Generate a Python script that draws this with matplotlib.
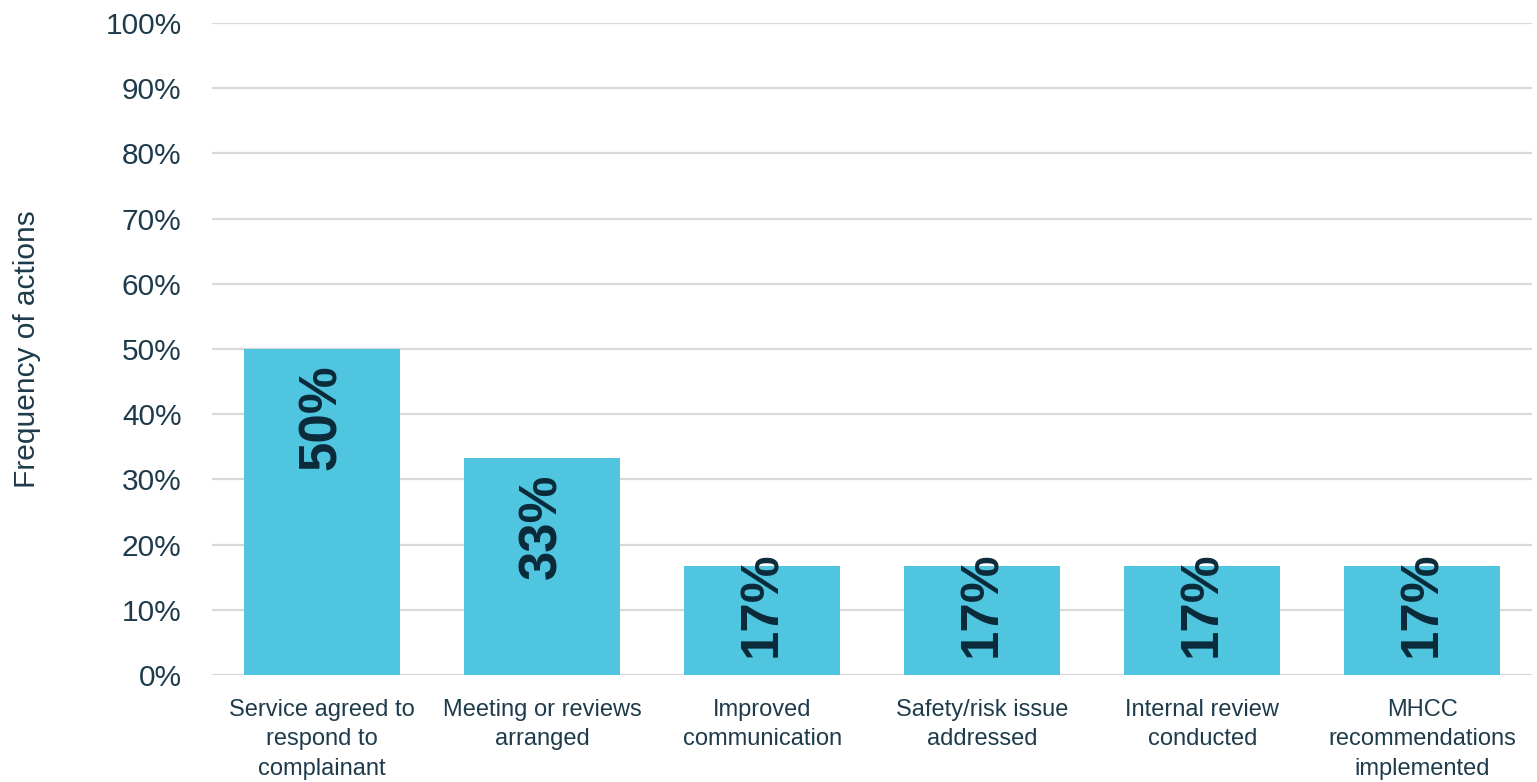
import matplotlib.pyplot as plt
import numpy as np

categories = ["Service agreed to\nrespond to\ncomplainant",
              "Meeting or reviews\narranged",
              "Improved\ncommunication",
              "Safety/risk issue\naddressed",
              "Internal review\nconducted",
              "MHCC\nrecommendations\nimplemented"]
values = [50, 33.3, 16.7, 16.7, 16.7, 16.7]
labels = ["50%", "33%", "17%", "17%", "17%", "17%"]
yticks = [0, 10, 20, 30, 40, 50, 60, 70, 80, 90, 100]

bar_color = "#4FC5DF"
text_color = "#1E3B4C"
label_color = "#0B2A3A"

plt.rcParams['font.family'] = ['Liberation Sans', 'DejaVu Sans']

fig = plt.figure(figsize=(15.37, 7.82), dpi=100)
ax = fig.add_axes([0.138, 0.1368, 0.859, 0.8338])

x = np.arange(len(categories))
ax.bar(x, values, width=0.71, color=bar_color, zorder=2)

# value labels, rotated, near the top of each bar
for xi, v, lab in zip(x, values, labels):
    yc = max(v - 10.5, 10.9)
    ax.text(xi, yc, lab, rotation=90, ha='center', va='center',
            fontsize=38, fontweight='bold', color=label_color, zorder=3)

ax.set_xlim(-0.5, len(categories) - 0.5)
ax.set_ylim(0, 100)
ax.set_yticks(yticks)
ax.set_yticklabels([f"{t}%" for t in yticks], fontsize=21.5, color=text_color)
ax.set_xticks(x)
ax.set_xticklabels(categories, fontsize=17, color=text_color, linespacing=1.45)
ax.tick_params(axis='y', length=0, pad=22)
ax.tick_params(axis='x', length=0, pad=17)

ax.set_ylabel("Frequency of actions", fontsize=21.5, color=text_color, labelpad=46)

ax.grid(axis='y', color='#D9D9D9', linewidth=1.6, zorder=0)
ax.set_axisbelow(True)
for s in ax.spines.values():
    s.set_visible(False)

fig.savefig('out.png', dpi=100)
